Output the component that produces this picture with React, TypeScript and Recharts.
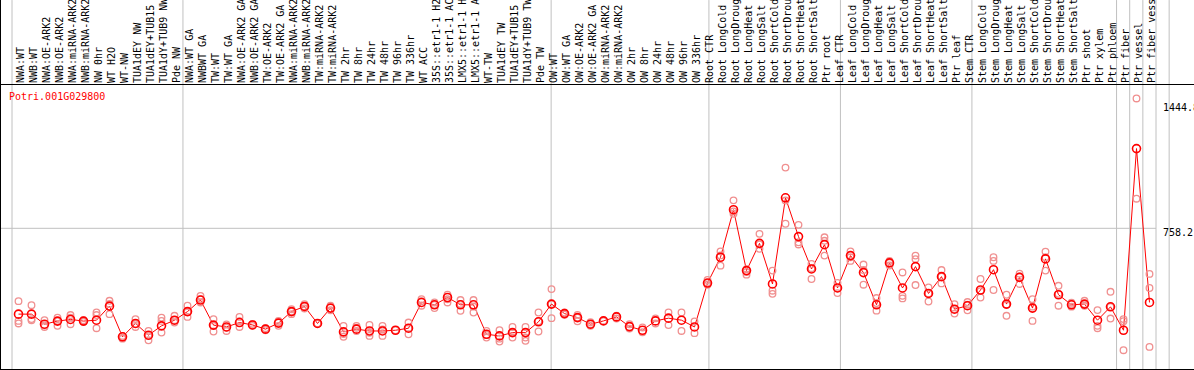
import { ComposedChart, Line, XAxis, YAxis, ReferenceLine } from 'recharts';

const GENE = 'Potri.001G029800';

const SAMPLES = [
  'NWA:WT', 'NWB:WT', 'NWA:OE-ARK2', 'NWB:OE-ARK2', 'NWA:miRNA-ARK2', 'NWB:miRNA-ARK2',
  'NW 0hr', 'WT H2O', 'WT-NW', 'TUA1dEY NW', 'TUA1dEY+TUB15', 'TUA1dY+TUB9 NW', 'Pde NW',
  'NWA:WT GA', 'NWBWT GA', 'TW:WT', 'TW:WT GA', 'NWA:OE-ARK2 GA', 'NWB:OE-ARK2 GA',
  'TW:OE-ARK2', 'TW:OE-ARK2 GA', 'NWA:miRNA-ARK2', 'NWB:miRNA-ARK2', 'TW:miRNA-ARK2',
  'TW:miRNA-ARK2', 'TW 2hr', 'TW 8hr', 'TW 24hr', 'TW 48hr', 'TW 96hr', 'TW 336hr', 'WT ACC',
  '35S::etr1-1 H2O', '35S::etr1-1 ACC', 'LMX5::etr1-1 H2O', 'LMX5::etr1-1 ACC', 'WT-TW',
  'TUA1dEY TW', 'TUA1dEY+TUB15', 'TUA1dY+TUB9 TW', 'Pde TW',
  'OW:WT', 'OW:WT GA', 'OW:OE-ARK2', 'OW:OE-ARK2 GA', 'OW:miRNA-ARK2', 'OW:miRNA-ARK2',
  'OW 2hr', 'OW 8hr', 'OW 24hr', 'OW 48hr', 'OW 96hr', 'OW 336hr',
  'Root CTR', 'Root LongCold', 'Root LongDrought', 'Root LongHeat', 'Root LongSalt',
  'Root ShortCold', 'Root ShortDrought', 'Root ShortHeat', 'Root ShortSalt', 'Ptr root',
  'Leaf CTR', 'Leaf LongCold', 'Leaf LongDrought', 'Leaf LongHeat', 'Leaf LongSalt',
  'Leaf ShortCold', 'Leaf ShortDrought', 'Leaf ShortHeat', 'Leaf ShortSalt', 'Ptr leaf',
  'Stem CTR', 'Stem LongCold', 'Stem LongDrought', 'Stem LongHeat', 'Stem LongSalt',
  'Stem ShortCold', 'Stem ShortDrought', 'Stem ShortHeat', 'Stem ShortSalt', 'Ptr shoot',
  'Ptr xylem', 'Ptr phloem', 'Ptr fiber', 'Ptr vessel', 'Ptr fiber vessel',
];

// mean expression per sample
const MEANS = [
  289, 289, 234, 251, 260, 251, 256, 333, 165, 238, 174, 225, 256,
  303, 366, 229, 219, 243, 230, 207, 240, 303, 331, 238, 322, 192, 207, 197, 197, 201, 212,
  353, 340, 380, 340, 340, 179, 170, 188, 188, 247,
  344, 292, 270, 234, 252, 274, 221, 201, 252, 267, 256, 219,
  459, 600, 860, 527, 676, 454, 925, 713, 536, 669,
  432, 609, 516, 340, 569, 432, 549, 402, 494, 316,
  335, 421, 532, 344, 490, 322, 591, 395, 340, 344, 256,
  329, 201, 1194, 353,
];

// replicates (null = no replicate)
const REP_A = [
  360, 338, 256, 270, 284, 256, 298, 362, 170, 262, 197, 270, 280,
  335, 389, 262, 233, 274, 236, 212, 252, 316, 344, 238, 335, 225, 225, 230, 225, 201, 243,
  371, 353, 395, 366, 366, 197, 201, 219, 219, 298,
  426, 298, 285, 245, 252, 280, 234, 216, 266, 298, 298, 249,
  476, 632, 911, 505, 728, 527, 1090, 777, 563, 709,
  460, 632, 560, 377, 580, 517, 609, 435, 530, 344,
  355, 481, 600, 395, 510, 371, 631, 444, 352, 362, 311,
  411, 262, 1468, 509,
];

const REP_B = [
  252, 262, 219, 225, 234, 246, 284, 289, 160, 219, 146, 188, 243,
  274, 353, 194, 197, 219, 225, 201, 225, 289, 320, 238, 310, 165, 197, 170, 170, null, 179,
  335, 322, 353, 307, 298, 161, 139, 161, 161, 194,
  267, 286, 250, 225, 252, 265, 210, 190, 238, 229, 197, 185,
  460, 554, 838, 535, 646, 417, 783, 682, 481, 609,
  404, 580, 450, 308, 555, 389, 448, 358, 457, 292,
  310, 380, 421, 280, 454, 252, 527, 335, 330, 335, 225,
  265, 92, 920, 432,
];

const REP_C = [
  238, 255, 228, 251, 270, 251, 212, 345, 155, 235, 170, 252, 256,
  300, 370, 225, 215, 250, 230, 207, 245, 303, 331, null, null, 180, 215, 187, 205, null, 212,
  360, 340, 370, 345, 330, 175, 155, 188, 143, 250,
  344, 292, 270, 234, null, null, null, null, null, null, null, null,
  450, 610, 850, 520, 670, 400, 910, 670, 540, 690,
  430, 600, 530, 350, 569, 375, 590, 402, 494, 316,
  340, 415, 580, 340, 495, 330, 600, 400, 345, 344, 212,
  329, 250, null, 110,
];

// panel boundaries, in sample slots (slot k = left edge of sample k)
const SEPARATORS = [0, 13, 41, 53, 63, 73, 84, 85, 86, 87, 88];
const Y_TICKS = [0, 758.2, 1444.8];
const Y_DOMAIN = [-10.9, 1541.6];
const Y_PAGE_TOP = 2006; // value at the very top of the header

const data = SAMPLES.map((s, i) => ({
  id: i,
  sample: s,
  mean: MEANS[i],
  a: REP_A[i],
  b: REP_B[i],
  c: REP_C[i],
}));

const MONO = '"DejaVu Sans Mono", monospace';
const GRID = '#c0c0c0';
const RED = '#ff0000';
const PINK = '#f09090';

function SampleTick(props: any) {
  const { x, y, payload } = props;
  const tx = x + 5;
  return (
    <text
      x={tx}
      y={y}
      transform={`rotate(-90, ${tx}, ${y})`}
      textAnchor="start"
      fontFamily={MONO}
      fontSize={10}
      fill="#000"
    >
      {SAMPLES[payload.value]}
    </text>
  );
}

function ValueTick(props: any) {
  const { x, y, payload } = props;
  const dy = payload.value === 0 ? -1.5 : 8;
  return (
    <text x={x} y={y + dy} textAnchor="start" fontFamily={MONO} fontSize={10} fill="#000">
      {payload.value}
    </text>
  );
}

export default function App() {
  return (
    <div
      style={{
        position: 'absolute',
        left: 0,
        top: 0,
        width: 1194,
        height: 370,
        boxSizing: 'border-box',
        borderLeft: '1px solid #000',
        borderBottom: '1px solid #000',
        background: '#fff',
        overflow: 'hidden',
      }}
    >
      <ComposedChart width={1193} height={369} data={data} margin={{ top: 0, right: 0, bottom: 0, left: 0 }}>
        <XAxis
          dataKey="id"
          type="category"
          scale="band"
          orientation="top"
          height={85}
          padding={{ left: 11, right: 0 }}
          axisLine={false}
          tickLine={false}
          tickSize={0}
          tickMargin={2}
          interval={0}
          tick={<SampleTick />}
        />
        <XAxis
          xAxisId="slots"
          type="number"
          domain={[0, SAMPLES.length]}
          padding={{ left: 11, right: 0 }}
          hide
        />
        <YAxis
          orientation="right"
          width={38}
          type="number"
          domain={Y_DOMAIN}
          ticks={Y_TICKS}
          allowDataOverflow
          axisLine={false}
          tickLine={false}
          tickSize={0}
          tickMargin={7}
          tick={<ValueTick />}
        />
        <ReferenceLine y={758.2} stroke={GRID} strokeWidth={1} ifOverflow="visible" />
        {SEPARATORS.map((g) => (
          <ReferenceLine
            key={`sep-${g}`}
            xAxisId="slots"
            segment={[{ x: g, y: Y_DOMAIN[0] }, { x: g, y: Y_PAGE_TOP }]}
            ifOverflow="visible"
            stroke={GRID}
            strokeWidth={1}
          />
        ))}
        {['a', 'b', 'c'].map((k) => (
          <Line
            key={k}
            dataKey={k}
            stroke="none"
            strokeWidth={0}
            dot={{ r: 3.3, stroke: PINK, strokeWidth: 1.3, fill: 'none' }}
            activeDot={false}
            isAnimationActive={false}
          />
        ))}
        <Line
          dataKey="mean"
          stroke={RED}
          strokeWidth={1}
          dot={{ r: 4, stroke: RED, strokeWidth: 1.6, fill: 'none' }}
          activeDot={false}
          isAnimationActive={false}
        />
      </ComposedChart>
      <div style={{ position: 'absolute', left: 0, top: 84, width: 1194, height: 1, background: '#000' }} />
      <div
        style={{
          position: 'absolute',
          left: 8,
          top: 92,
          fontFamily: MONO,
          fontSize: 10,
          lineHeight: '10px',
          color: RED,
        }}
      >
        {GENE}
      </div>
    </div>
  );
}
